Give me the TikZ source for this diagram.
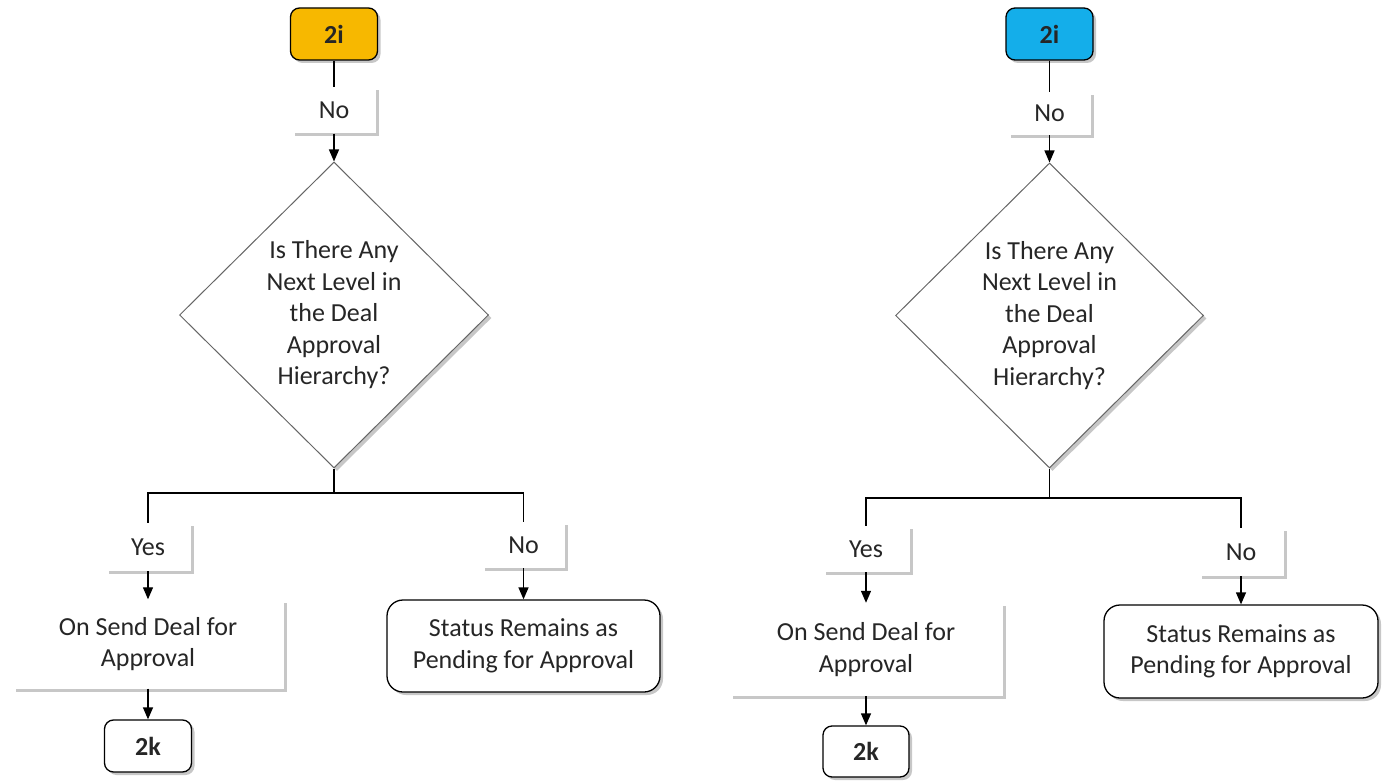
\documentclass[tikz,border=0pt]{standalone}
\usepackage{fontspec}
\setmainfont{Carlito}
\usepackage{tikz}
\usetikzlibrary{shapes.geometric,arrows.meta,shadows}
\definecolor{FCOrange}{HTML}{F7B800}
\definecolor{FCBlue}{HTML}{14AEEA}
\definecolor{FCText}{HTML}{262626}
\definecolor{FCEdge}{HTML}{666666}

\begin{document}
\begin{tikzpicture}[x=1pt,y=-1pt,
  font=\fontsize{26}{31.5}\selectfont, text=FCText,
  shade/.style={drop shadow={shadow xshift=3pt,shadow yshift=-3pt,opacity=.22,fill=black}},
  tagbox/.style={draw=black,fill=white,line width=1.3pt,rounded corners=9pt,minimum width=87pt,minimum height=52pt,font=\fontsize{26}{31.5}\selectfont\bfseries,shade},
  lblbox/.style={fill=white,minimum width=84pt,minimum height=46pt,shade},
  actbox/.style={fill=white,minimum width=271pt,minimum height=89pt,align=center,shade},
  endbox/.style={draw=black,fill=white,line width=1.3pt,rounded corners=16pt,minimum width=273pt,minimum height=92pt,align=center,shade},
  askbox/.style={diamond,draw=FCEdge,fill=white,line width=1pt,inner sep=0pt,align=center,minimum width=309pt,minimum height=306pt,shade},
  flow/.style={-{Triangle[width=10pt,length=12pt]},line width=1.3pt},
  link/.style={line width=1.3pt}]
\path[use as bounding box] (0,0) rectangle (1387,781);
% left branch
\node[tagbox,fill=FCOrange] (i2L) at (334,34) {2i};
\node[lblbox] (noL) at (334,110.5) {No};
\node[askbox] (qL) at (334,315) {Is There Any\\Next Level in\\the Deal\\Approval\\Hierarchy?};
\coordinate (jL) at (334,493);
\node[lblbox,minimum width=85pt,minimum height=48pt] (yesL) at (148,547) {Yes};
\node[actbox] (sendL) at (148,644) {On Send Deal for\\Approval};
\node[tagbox] (k2L) at (148,746) {2k};
\node[lblbox,minimum width=83pt] (noL2) at (523.5,545) {No};
\node[endbox] (statL) at (523.5,646) {Status Remains as\\Pending for Approval};
\draw[link] (i2L) -- (noL);
\draw[flow] (noL) -- (qL);
\draw[link] (qL.south) -- (jL);
\draw[link] (yesL.north) |- (jL) -| (noL2.north);
\draw[flow] (yesL) -- (sendL);
\draw[flow] (sendL) -- (k2L);
\draw[flow] (noL2) -- (statL);
% right branch
\node[tagbox,fill=FCBlue] (i2R) at (1049.5,34) {2i};
\node[lblbox,minimum width=83pt,minimum height=43pt] (noR) at (1049.5,113.5) {No};
\node[askbox,minimum width=308pt,minimum height=305pt] (qR) at (1049.5,315.5) {Is There Any\\Next Level in\\the Deal\\Approval\\Hierarchy?};
\coordinate (jR) at (1049.5,498);
\node[lblbox,minimum width=87pt] (yesR) at (866,549) {Yes};
\node[actbox,minimum width=273pt,minimum height=93pt] (sendR) at (866,649.5) {On Send Deal for\\Approval};
\node[tagbox,minimum width=86pt,minimum height=51pt] (k2R) at (866,751.5) {2k};
\node[lblbox,minimum width=85pt,minimum height=48pt] (noR2) at (1241,552) {No};
\node[endbox,minimum width=274pt,minimum height=93pt] (statR) at (1241,651.5) {Status Remains as\\Pending for Approval};
\draw[link] (i2R) -- (noR);
\draw[flow] (noR) -- (qR);
\draw[link] (qR.south) -- (jR);
\draw[link] (yesR.north) |- (jR) -| (noR2.north);
\draw[flow] (yesR) -- (sendR);
\draw[flow] (sendR) -- (k2R);
\draw[flow] (noR2) -- (statR);
\end{tikzpicture}
\end{document}
